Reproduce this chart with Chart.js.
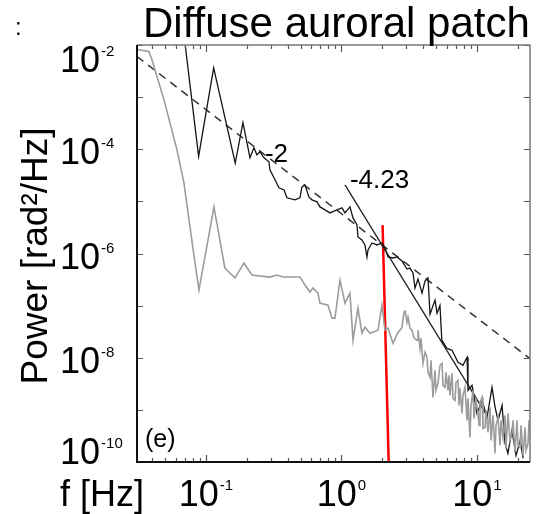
<!DOCTYPE html>
<html><head><meta charset="utf-8">
<script src="https://cdn.jsdelivr.net/npm/chart.js@4.4.0/dist/chart.umd.min.js"></script>
<style>html,body{margin:0;padding:0;background:#fff;}</style>
</head><body>
<canvas id="c" width="538" height="514"></canvas>
<script>
// ---- data ----
const blackFreq = [0.070, 0.0883, 0.114, 0.1645, 0.1875, 0.2113, 0.226, 0.2377, 0.2505, 0.268, 0.2917, 0.2966, 0.323, 0.346, 0.3766, 0.3963, 0.4539, 0.494, 0.511, 0.538, 0.575, 0.606, 0.659, 0.694, 0.755, 0.822, 0.927, 1.009, 1.061, 1.155, 1.216, 1.301, 1.324, 1.416, 1.490, 1.542, 1.570, 1.679, 1.828, 1.990, 2.094, 2.204, 2.40, 2.57, 2.796, 3.044, 3.203, 3.372, 3.487, 3.669, 3.93, 4.13, 4.35, 4.50, 4.90, 5.07, 5.33, 5.5, 6.0, 6.54, 7.24, 7.88, 8.44, 8.58, 9.19, 10.0, 10.9, 11.86, 12.9, 13.6, 14.3, 15.3, 16.1, 16.9, 18.1, 19.4, 20.8, 21.9];
const blackPower = [1.1e-2, 7.3e-5, 3.65e-3, 5.43e-5, 3.24e-4, 6.87e-5, 1.07e-4, 7.83e-5, 8.95e-5, 6.87e-5, 5.75e-5, 4.04e-5, 2.59e-5, 1.82e-5, 1.66e-5, 1.17e-5, 1.07e-5, 1.17e-5, 1.90e-5, 2.07e-5, 1.22e-5, 1.07e-5, 9.8e-6, 7.83e-6, 6.87e-6, 6.01e-6, 6.87e-6, 7.5e-6, 6.01e-6, 7.83e-6, 4.82e-6, 3.53e-6, 2.08e-6, 1.82e-6, 1.46e-6, 8.57e-7, 1.17e-6, 1.59e-6, 1.46e-6, 1.59e-6, 1.28e-6, 8.57e-7, 8.2e-7, 8.57e-7, 7.17e-7, 5.04e-7, 5.26e-7, 4.22e-7, 2.17e-7, 3.24e-7, 1.74e-7, 2.96e-7, 3.38e-7, 6.87e-8, 1.28e-7, 7.17e-8, 1.0e-7, 2.17e-8, 1.52e-8, 1.39e-8, 8.2e-9, 7.17e-9, 1.02e-8, 2.37e-9, 2.96e-9, 8.57e-10, 1.52e-9, 7.17e-10, 2.71e-9, 1.12e-9, 6.28e-10, 1.22e-9, 2.27e-10, 1.46e-10, 4.04e-10, 1.33e-10, 2.59e-10, 1.17e-10];

const grayFreq = [0.031, 0.0379, 0.0399, 0.049, 0.0611, 0.0688, 0.0815, 0.0888, 0.1146, 0.138, 0.1637, 0.1906, 0.2184, 0.2966, 0.334, 0.370, 0.494, 0.538, 0.586, 0.616, 0.671, 0.694, 0.795, 0.851, 0.895, 0.975, 1.061, 1.155, 1.216, 1.324, 1.416, 1.49, 1.622, 1.858, 1.99, 2.094, 2.204, 2.40, 2.61,
  2.702, 2.796, 2.893, 2.942, 3.044, 3.097, 3.203, 3.314, 3.429, 3.608, 3.669, 3.796, 3.861, 3.995, 4.133, 4.276, 4.349, 4.499, 4.576, 4.735, 4.898, 4.982, 5.154, 5.333, 5.517, 5.612, 5.804, 5.904, 6.109, 6.214, 6.320, 6.539, 6.651, 6.882, 6.998, 7.240, 7.364, 7.490, 7.749, 7.883, 8.155, 8.437, 8.582, 8.878, 9.031, 9.343, 9.504, 9.831, 10.17, 10.35, 10.52, 10.89, 11.07, 11.46, 11.65, 12.06, 12.47, 12.69, 13.13, 13.58, 13.81, 14.29, 14.78, 15.04, 15.56, 16.10, 16.37, 16.94, 17.52, 18.13, 18.44, 19.07, 19.73, 20.07, 20.76, 21.12, 21.85, 22.61, 22.99, 23.79, 24.20, 25.03];
const grayPower = [8.2e-3, 7.5e-3, 5.26e-3, 8.95e-4, 9.77e-5, 2.27e-5, 9.35e-7, 1.99e-7, 7.83e-6, 5.26e-7, 3.38e-7, 6.56e-7, 3.86e-7, 3.53e-7, 3.86e-7, 3.53e-7, 3.53e-7, 2.48e-7, 1.82e-7, 2.17e-7, 1.74e-7, 1.12e-7, 1.02e-7, 5.75e-8, 5.75e-8, 3.09e-7, 1.12e-7, 1.74e-7, 2.17e-8, 8.95e-8, 2.96e-8, 3.86e-8, 2.96e-8, 3.38e-8, 1.02e-7, 3.38e-8, 3.69e-8, 1.90e-8, 3.09e-8,
  3.38e-8, 3.86e-8, 7.50e-8, 8.19e-8, 4.82e-8, 6.01e-8, 3.69e-8, 3.38e-8, 2.37e-8, 2.17e-8, 3.38e-8, 1.52e-8, 2.37e-8, 7.83e-9, 1.28e-8, 1.02e-8, 5.26e-9, 4.22e-9, 8.95e-9, 1.74e-9, 5.75e-9, 2.37e-9, 3.24e-9, 7.17e-9, 7.83e-9, 2.96e-9, 2.71e-9, 5.26e-9, 2.37e-9, 4.61e-9, 1.90e-9, 5.04e-9, 1.66e-9, 1.52e-9, 3.38e-9, 3.69e-9, 1.22e-9, 2.59e-9, 8.57e-10, 1.90e-9, 2.71e-9, 6.28e-10, 1.66e-9, 2.96e-10, 1.22e-9, 2.37e-9, 6.87e-10, 1.52e-9, 8.57e-10, 5.04e-10, 1.39e-9, 1.74e-9, 4.41e-10, 4.61e-10, 9.77e-10, 3.69e-10, 1.12e-9, 2.59e-10, 7.83e-10, 1.46e-10, 5.04e-10, 7.17e-10, 2.08e-10, 6.28e-10, 2.96e-10, 7.83e-10, 1.82e-10, 8.57e-10, 2.59e-10, 3.53e-10, 6.28e-10, 1.52e-10, 6.28e-10, 2.08e-10, 1.90e-10, 5.04e-10, 1.33e-10, 4.61e-10, 1.66e-10, 2.27e-10, 6.28e-10, 2.96e-10];

const slope2Freq = [0.031, 24.6];
const slope2Power = [6.0e-3, 9.6e-9];
const slope423Freq = [1.061, 11.86];
const slope423Power = [2.07e-5, 7.66e-10];
const redFreq = [2.01, 2.23];
const redPower = [3.5e-6, 1e-10];

const xMin = 0.031, xMax = 24.6;
const yMin = 1e-10, yMax = 1e-2;
const xMajorTicks = [0.1, 1, 10];
const xTickExps = ['-1', '0', '1'];
const yMajorTicks = [1e-2, 1e-4, 1e-6, 1e-8, 1e-10];
const yTickExps = ['-2', '-4', '-6', '-8', '-10'];

const FONT = '"Liberation Sans", Arial, Helvetica, sans-serif';

function pts(xs, ys) { return xs.map((x, i) => ({x: x, y: ys[i]})); }

const deco = {
  id: 'deco',
  afterDraw(chart) {
    const ctx = chart.ctx;
    const a = chart.chartArea;
    const xs = chart.scales.x, ys = chart.scales.y;
    ctx.save();
    // ticks
    ctx.strokeStyle = '#555';
    ctx.lineWidth = 1.2;
    for (let d = -2; d <= 1; d++) {
      for (let m = 1; m <= 9; m++) {
        const v = m * Math.pow(10, d);
        if (v < xMin || v > xMax) continue;
        const px = Math.round(xs.getPixelForValue(v)) + 0.5;
        const len = m === 1 ? 7 : 4;
        ctx.beginPath();
        ctx.moveTo(px, a.bottom); ctx.lineTo(px, a.bottom - len);
        ctx.moveTo(px, a.top); ctx.lineTo(px, a.top + len);
        ctx.stroke();
      }
    }
    for (let e = -10; e <= -2; e++) {
      const py = Math.round(ys.getPixelForValue(Math.pow(10, e))) + 0.5;
      ctx.beginPath();
      ctx.moveTo(a.left, py); ctx.lineTo(a.left + 6, py);
      ctx.moveTo(a.right, py); ctx.lineTo(a.right - 6, py);
      ctx.stroke();
    }
    // frame
    ctx.lineWidth = 1.5;
    ctx.strokeStyle = '#777';
    ctx.beginPath();
    ctx.moveTo(a.left, a.top); ctx.lineTo(a.right, a.top); ctx.lineTo(a.right, a.bottom);
    ctx.stroke();
    ctx.lineWidth = 2;
    ctx.strokeStyle = '#111';
    ctx.beginPath();
    ctx.moveTo(a.left, a.top); ctx.lineTo(a.left, a.bottom); ctx.lineTo(a.right, a.bottom);
    ctx.stroke();

    ctx.fillStyle = '#000';
    ctx.textBaseline = 'alphabetic';
    ctx.textAlign = 'left';
    // y tick labels
    yMajorTicks.forEach((v, i) => {
      const py = ys.getPixelForValue(v);
      let base = py + 15;
      if (i === 0) base = py + 27;
      if (i === yMajorTicks.length - 1) base = py + 1.5;
      ctx.font = '36px ' + FONT;
      ctx.fillText('10', 60, base);
      const w = ctx.measureText('10').width;
      ctx.font = '15px ' + FONT;
      ctx.fillText(yTickExps[i], 60 + w + 1, base - 16);
    });
    // x tick labels
    xMajorTicks.forEach((v, i) => {
      const px = xs.getPixelForValue(v);
      ctx.font = '36px ' + FONT;
      const w1 = ctx.measureText('10').width;
      ctx.font = '15px ' + FONT;
      const w2 = ctx.measureText(xTickExps[i]).width;
      const start = px - (w1 + w2 + 1) / 2;
      ctx.font = '36px ' + FONT;
      ctx.fillText('10', start, 506);
      ctx.font = '15px ' + FONT;
      ctx.fillText(xTickExps[i], start + w1 + 1, 490);
    });
    // axis titles
    ctx.font = '36px ' + FONT;
    ctx.fillText('f [Hz]', 60, 506);
    ctx.save();
    ctx.translate(37, 256);
    ctx.rotate(-Math.PI / 2);
    ctx.textAlign = 'center';
    ctx.textBaseline = 'middle';
    ctx.font = '37px ' + FONT;
    ctx.fillText('Power [rad\u00B2/Hz]', 0, 0);
    ctx.restore();
    // title
    ctx.font = '42px ' + FONT;
    ctx.fillText('Diffuse auroral patch', 143, 37);
    // stray mark from neighbouring panel
    ctx.font = '24px ' + FONT;
    ctx.fillText(':', 15, 35);
    // annotations
    ctx.font = '26px ' + FONT;
    ctx.fillText('-2', xs.getPixelForValue(0.2724), ys.getPixelForValue(5.75e-5));
    ctx.fillText('-4.23', xs.getPixelForValue(1.155), ys.getPixelForValue(1.82e-5));
    ctx.font = '25px ' + FONT;
    ctx.fillText('(e)', xs.getPixelForValue(0.0355), ys.getPixelForValue(1.9e-10));
    ctx.restore();
  }
};

new Chart(document.getElementById('c'), {
  type: 'line',
  data: {
    datasets: [
      {data: pts(grayFreq, grayPower), borderColor: '#9c9c9c', borderWidth: 1.6, pointRadius: 0, tension: 0},
      {data: pts(blackFreq, blackPower), borderColor: '#151515', borderWidth: 1.3, pointRadius: 0, tension: 0},
      {data: pts(slope2Freq, slope2Power), borderColor: '#333', borderWidth: 1.5, borderDash: [8, 6], pointRadius: 0},
      {data: pts(slope423Freq, slope423Power), borderColor: '#222', borderWidth: 1.3, pointRadius: 0},
      {data: pts(redFreq, redPower), borderColor: '#ff0000', borderWidth: 2.5, pointRadius: 0}
    ]
  },
  options: {
    responsive: false,
    animation: false,
    layout: {padding: {left: 137, right: 8, top: 45, bottom: 52}},
    plugins: {legend: {display: false}, tooltip: {enabled: false}, title: {display: false}},
    scales: {
      x: {type: 'logarithmic', min: xMin, max: xMax, grid: {display: false}, border: {display: false},
          ticks: {display: false}, afterFit(s) { s.height = 0; }},
      y: {type: 'logarithmic', min: yMin, max: yMax, grid: {display: false}, border: {display: false},
          ticks: {display: false}, afterFit(s) { s.width = 0; }}
    }
  },
  plugins: [deco]
});
</script>
</body></html>
